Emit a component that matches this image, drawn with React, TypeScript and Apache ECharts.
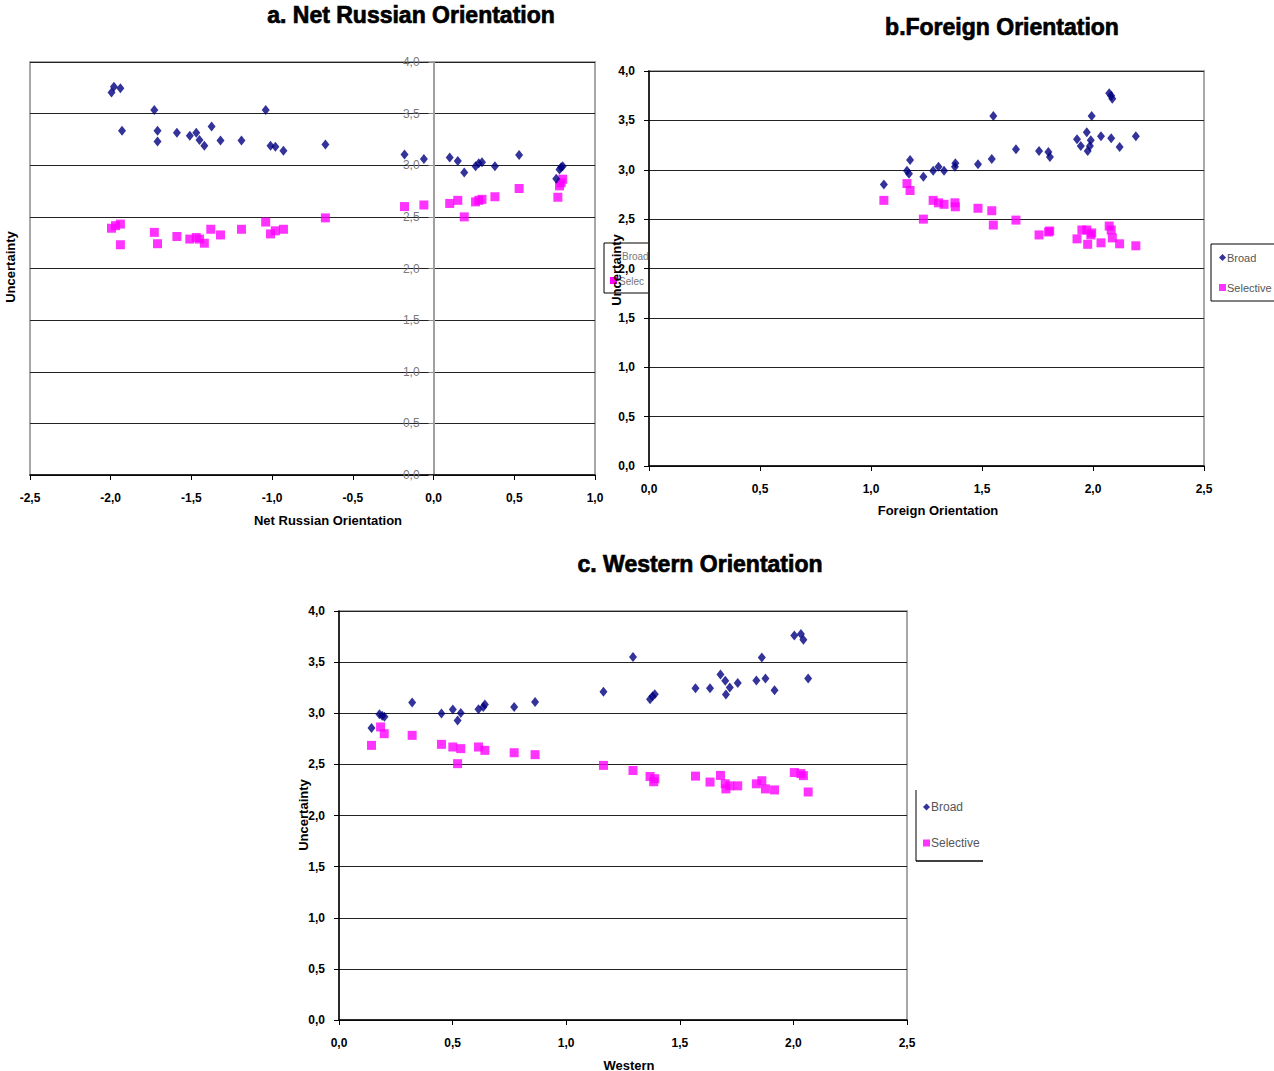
import React, { useEffect, useRef } from "react";
import * as echarts from "echarts";

// Panel a: Net Russian Orientation vs Uncertainty
const netRussianBroad: [number, number][] = [
  [-1.995, 3.705], [-1.98, 3.76], [-1.94, 3.745], [-1.93, 3.335], [-1.73, 3.535], [-1.71, 3.335],
  [-1.71, 3.23], [-1.59, 3.315], [-1.51, 3.285], [-1.47, 3.315], [-1.45, 3.245], [-1.42, 3.19],
  [-1.375, 3.375], [-1.32, 3.24], [-1.19, 3.24], [-1.04, 3.535], [-1.01, 3.19], [-0.98, 3.18],
  [-0.93, 3.14], [-0.67, 3.2], [-0.18, 3.105], [-0.06, 3.06], [0.1, 3.075], [0.15, 3.04],
  [0.19, 2.93], [0.26, 2.99], [0.28, 3.02], [0.3, 3.03], [0.38, 2.99], [0.53, 3.1],
  [0.76, 2.87], [0.78, 2.96], [0.79, 2.98], [0.8, 2.99],
];
const netRussianSelective: [number, number][] = [
  [-1.995, 2.39], [-1.97, 2.415], [-1.94, 2.43], [-1.94, 2.23], [-1.73, 2.35], [-1.71, 2.24],
  [-1.59, 2.31], [-1.51, 2.285], [-1.47, 2.3], [-1.45, 2.285], [-1.42, 2.245], [-1.38, 2.38],
  [-1.32, 2.325], [-1.19, 2.38], [-1.04, 2.45], [-1.01, 2.335], [-0.98, 2.365], [-0.93, 2.38],
  [-0.67, 2.49], [-0.18, 2.6], [-0.06, 2.615], [0.1, 2.63], [0.15, 2.66], [0.19, 2.5],
  [0.26, 2.645], [0.28, 2.66], [0.3, 2.67], [0.38, 2.695], [0.53, 2.775], [0.77, 2.69],
  [0.78, 2.8], [0.79, 2.83], [0.8, 2.865],
];

// Panel b: Foreign Orientation vs Uncertainty
const foreignBroad: [number, number][] = [
  [1.058, 2.85], [1.162, 2.99], [1.176, 3.1], [1.171, 2.96], [1.236, 2.93], [1.28, 2.99],
  [1.304, 3.03], [1.329, 2.99], [1.38, 3.065], [1.378, 3.03], [1.482, 3.055], [1.544, 3.11],
  [1.551, 3.545], [1.653, 3.207], [1.757, 3.19], [1.799, 3.18], [1.806, 3.13], [1.928, 3.31],
  [1.945, 3.24], [1.972, 3.38], [1.976, 3.19], [1.986, 3.24], [1.99, 3.3], [1.994, 3.545],
  [2.036, 3.34], [2.073, 3.775], [2.082, 3.75], [2.087, 3.72], [2.082, 3.32], [2.12, 3.23],
  [2.193, 3.34],
];
const foreignSelective: [number, number][] = [
  [1.058, 2.69], [1.162, 2.86], [1.176, 2.79], [1.236, 2.5], [1.28, 2.69], [1.304, 2.665],
  [1.329, 2.65], [1.378, 2.665], [1.38, 2.625], [1.482, 2.61], [1.544, 2.585], [1.551, 2.44],
  [1.653, 2.49], [1.757, 2.34], [1.8, 2.37], [1.805, 2.38], [1.928, 2.3], [1.95, 2.39],
  [1.972, 2.39], [1.976, 2.245], [1.99, 2.34], [1.994, 2.36], [2.036, 2.26], [2.073, 2.43],
  [2.082, 2.39], [2.087, 2.31], [2.12, 2.25], [2.193, 2.23],
];

// Panel c: Western Orientation vs Uncertainty
const westernBroad: [number, number][] = [
  [0.143, 2.855], [0.178, 2.99], [0.19, 2.975], [0.2, 2.965], [0.322, 3.105], [0.451, 2.997],
  [0.501, 3.036], [0.522, 2.93], [0.536, 3.003], [0.614, 3.04], [0.635, 3.06], [0.642, 3.085],
  [0.771, 3.06], [0.863, 3.11], [1.164, 3.21], [1.294, 3.55], [1.369, 3.137], [1.38, 3.167],
  [1.39, 3.186], [1.569, 3.245], [1.633, 3.245], [1.679, 3.38], [1.7, 3.317], [1.703, 3.183],
  [1.72, 3.252], [1.755, 3.297], [1.837, 3.32], [1.861, 3.545], [1.877, 3.34], [1.917, 3.225],
  [2.004, 3.76], [2.033, 3.775], [2.044, 3.72], [2.065, 3.34],
];
const westernSelective: [number, number][] = [
  [0.143, 2.686], [0.183, 2.866], [0.199, 2.8], [0.322, 2.784], [0.451, 2.696], [0.501, 2.67],
  [0.522, 2.507], [0.536, 2.654], [0.614, 2.67], [0.642, 2.637], [0.771, 2.614], [0.863, 2.595],
  [1.164, 2.49], [1.294, 2.44], [1.369, 2.382], [1.39, 2.36], [1.385, 2.33], [1.569, 2.385],
  [1.633, 2.327], [1.679, 2.392], [1.7, 2.31], [1.703, 2.26], [1.72, 2.29], [1.755, 2.29],
  [1.837, 2.31], [1.861, 2.34], [1.877, 2.26], [1.917, 2.25], [2.004, 2.42], [2.033, 2.41],
  [2.044, 2.39], [2.065, 2.23],
];

const titles = ["a. Net Russian Orientation", "b.Foreign Orientation", "c. Western Orientation"];
const xAxisNames = ["Net Russian Orientation", "Foreign Orientation", "Western"];
const yAxisName = "Uncertainty";
const seriesNames = ["Broad", "Selective"];

const FONT = "Liberation Sans, Arial, sans-serif";
const fmt = (v: number) => v.toFixed(1).replace(".", ",");

export default function App() {
  const ref = useRef<HTMLDivElement>(null);
  useEffect(() => {
    if (!ref.current) return;
    const chart = echarts.init(ref.current, undefined, { renderer: "svg" });

    const grids = [
      { left: 30, top: 62, width: 565, height: 413 },
      { left: 649, top: 71, width: 555, height: 395 },
      { left: 339, top: 611, width: 568, height: 409 },
    ];
    const xRanges = [
      [-2.5, 1.0],
      [0, 2.5],
      [0, 2.5],
    ];
    // panel a: y axis sits at x = 0 of its x axis
    const zeroOffsetA = -((0 - xRanges[0][0]) / (xRanges[0][1] - xRanges[0][0])) * grids[0].width;

    const xAxis = [0, 1, 2].map((i) => ({
      type: "value",
      gridIndex: i,
      min: xRanges[i][0],
      max: xRanges[i][1],
      interval: 0.5,
      axisLine: { show: true, onZero: false, lineStyle: { color: "#000", width: 1.5 } },
      axisTick: { show: true, inside: false, length: 5, lineStyle: { color: "#000" } },
      axisLabel: {
        margin: 17,
        fontFamily: FONT,
        fontWeight: "bold",
        fontSize: 12,
        color: "#000",
        formatter: fmt,
      },
      splitLine: { show: false },
    }));

    const yAxis = [0, 1, 2].map((i) => ({
      type: "value",
      gridIndex: i,
      min: 0,
      max: 4,
      interval: 0.5,
      offset: i === 0 ? zeroOffsetA : 0,
      axisLine: {
        show: true,
        onZero: false,
        lineStyle: { color: i === 0 ? "#a0a0a0" : "#000", width: i === 0 ? 2 : 1.5 },
      },
      axisTick: { show: true, inside: false, length: 5, lineStyle: { color: i === 0 ? "#888" : "#000" } },
      axisLabel: {
        margin: 14,
        fontFamily: FONT,
        fontWeight: i === 0 ? "normal" : "bold",
        fontSize: 12,
        color: i === 0 ? "#7a7a7a" : "#000",
        formatter: fmt,
      },
      splitLine: { show: true, lineStyle: { color: "#222", width: 1 } },
    }));

    const data = [
      [netRussianBroad, netRussianSelective],
      [foreignBroad, foreignSelective],
      [westernBroad, westernSelective],
    ];

    const series: any[] = [];
    for (let i = 0; i < 3; i++) {
      series.push({
        type: "scatter",
        name: seriesNames[1],
        xAxisIndex: i,
        yAxisIndex: i,
        data: data[i][1],
        symbol: "rect",
        symbolSize: 9,
        itemStyle: { color: "#ff00ff" },
        z: 2,
      });
      series.push({
        type: "scatter",
        name: seriesNames[0],
        xAxisIndex: i,
        yAxisIndex: i,
        data: data[i][0],
        symbol: "diamond",
        symbolSize: [8, 10],
        itemStyle: { color: "#000080" },
        z: 3,
      });
    }

    const titleText = (text: string, x: number, y: number) => ({
      type: "text",
      x,
      y,
      style: {
        text,
        font: `bold 23px ${FONT}`,
        fill: "#000",
        stroke: "#000",
        lineWidth: 0.7,
        align: "center",
        verticalAlign: "middle",
      },
    });
    const axisNameText = (text: string, x: number, y: number, rot = 0) => ({
      type: "text",
      x,
      y,
      rotation: rot,
      style: {
        text,
        font: `bold 13px ${FONT}`,
        fill: "#000",
        align: "center",
        verticalAlign: "middle",
      },
    });

    chart.setOption({
      animation: false,
      backgroundColor: "#fff",
      grid: grids.map((g) => ({
        ...g,
        show: true,
        borderColor: "#a8a8a8",
        borderWidth: 2,
        backgroundColor: "transparent",
        containLabel: false,
      })),
      xAxis,
      yAxis,
      series,
      legend: [
        {
          left: 1211,
          top: 244,
          orient: "vertical",
          data: seriesNames,
          selectedMode: false,
          borderColor: "#000",
          borderWidth: 1,
          backgroundColor: "#fff",
          padding: [8, 30, 8, 8],
          itemGap: 19,
          itemWidth: 7,
          itemHeight: 7,
          textStyle: { fontFamily: FONT, fontSize: 11, color: "#555", padding: [0, 0, 0, -4] },
        },
        {
          left: 923,
          top: 801,
          orient: "vertical",
          data: seriesNames,
          selectedMode: false,
          padding: 0,
          itemGap: 24,
          itemWidth: 7,
          itemHeight: 7,
          textStyle: { fontFamily: FONT, fontSize: 12, color: "#555", padding: [0, 0, 0, -4] },
        },
      ],
      graphic: [
        titleText(titles[0], 411, 15),
        titleText(titles[1], 1002, 27),
        titleText(titles[2], 700, 564),
        axisNameText(xAxisNames[0], 328, 520),
        axisNameText(xAxisNames[1], 938, 510),
        axisNameText(xAxisNames[2], 629, 1065),
        axisNameText(yAxisName, 10, 267, Math.PI / 2),
        // remnant legend box behind panel b y-axis
        {
          type: "rect",
          z: -1,
          shape: { x: 604, y: 243, width: 45, height: 50 },
          style: { fill: "#fff", stroke: "#000", lineWidth: 1 },
        },
        {
          type: "text",
          z: -1,
          x: 622,
          y: 256,
          style: { text: "Broad", font: `10px ${FONT}`, fill: "#777", verticalAlign: "middle" },
        },
        {
          type: "rect",
          z: -1,
          shape: { x: 610, y: 277, width: 7, height: 7 },
          style: { fill: "#ff00ff" },
        },
        {
          type: "text",
          z: -1,
          x: 619,
          y: 281,
          style: { text: "Selec", font: `10px ${FONT}`, fill: "#777", verticalAlign: "middle" },
        },
        axisNameText(yAxisName, 616, 270, Math.PI / 2),
        axisNameText(yAxisName, 303, 815, Math.PI / 2),
        // panel c legend borders (left and bottom only)
        {
          type: "line",
          shape: { x1: 916, y1: 790, x2: 916, y2: 861 },
          style: { stroke: "#000", lineWidth: 1 },
        },
        {
          type: "line",
          shape: { x1: 916, y1: 861, x2: 983, y2: 861 },
          style: { stroke: "#000", lineWidth: 1.5 },
        },
      ],
    });

    return () => chart.dispose();
  }, []);

  return (
    <div
      ref={ref}
      style={{ position: "absolute", left: 0, top: 0, width: 1274, height: 1071 }}
    />
  );
}
